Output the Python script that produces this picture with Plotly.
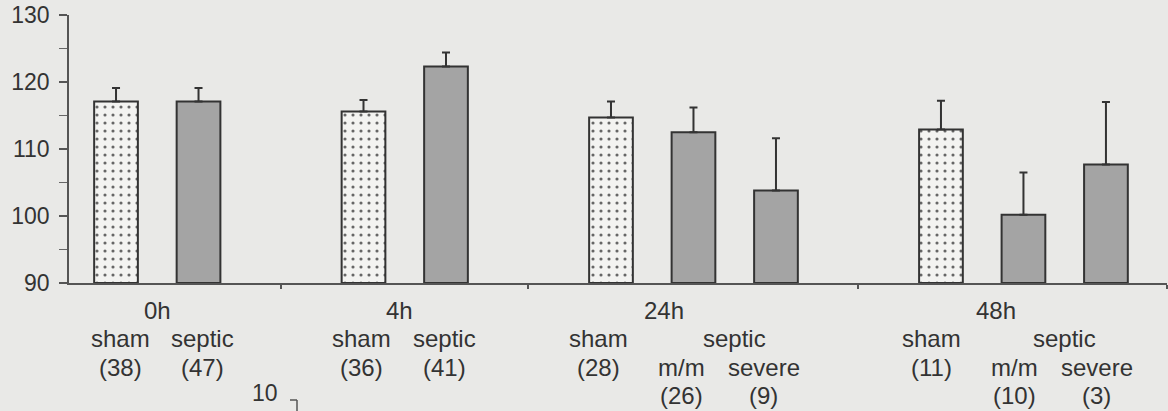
import plotly.graph_objects as go

# ---- data ----
time_points = ["0h", "4h", "24h", "48h"]
group_names = [["sham", "septic"], ["sham", "septic"],
               ["sham", "m/m", "severe"], ["sham", "m/m", "severe"]]
group_n = [["(38)", "(47)"], ["(36)", "(41)"],
           ["(28)", "(26)", "(9)"], ["(11)", "(10)", "(3)"]]
group_means = [[117.1, 117.1], [115.6, 122.3],
               [114.7, 112.5, 103.8], [112.9, 100.2, 107.7]]
group_sem = [[2.0, 2.0], [1.7, 2.1],
             [2.4, 3.7, 7.8], [4.3, 6.3, 9.3]]
y_ticks = [90, 100, 110, 120, 130]

# ---- geometry ----
W, H = 1168, 411
L, T = 69, 15
PW, PH = 1098, 268
R = W - L - PW
B = H - T - PH
FONT = "Liberation Sans, Arial, sans-serif"
TXT = "#333333"
FS = 24
FS_TICK = 23
BG = "#e9e9e7"

xs_sham, ys_sham, es_sham = [], [], []
xs_sep, ys_sep, es_sep = [], [], []
group_slots = []
gap_slots = []
slot = 0
for gi, means in enumerate(group_means):
    slots = []
    for bi, m in enumerate(means):
        slots.append(slot)
        if bi == 0:
            xs_sham.append(slot); ys_sham.append(m); es_sham.append(group_sem[gi][bi])
        else:
            xs_sep.append(slot); ys_sep.append(m); es_sep.append(group_sem[gi][bi])
        slot += 1
    group_slots.append(slots)
    if gi < len(group_means) - 1:
        gap_slots.append(slot)
        slot += 1

x_range = [-0.57, slot - 1 + 0.74]
bar_w = 0.53

fig = go.Figure()
fig.add_trace(go.Bar(
    x=xs_sham, y=[v - 90 for v in ys_sham], base=90, width=bar_w,
    marker=dict(color="#f3f3f1", line=dict(color="#333333", width=2),
                pattern=dict(shape=".", fgcolor="#666666", bgcolor="#f3f3f1",
                             size=8, solidity=0.12, fillmode="replace")),
    error_y=dict(type="data", array=es_sham, arrayminus=[0] * len(es_sham),
                 color="#333333", thickness=2, width=4),
    showlegend=False, hoverinfo="skip"))
fig.add_trace(go.Bar(
    x=xs_sep, y=[v - 90 for v in ys_sep], base=90, width=bar_w,
    marker=dict(color="#a4a4a4", line=dict(color="#333333", width=2)),
    error_y=dict(type="data", array=es_sep, arrayminus=[0] * len(es_sep),
                 color="#333333", thickness=2, width=4),
    showlegend=False, hoverinfo="skip"))

# ---- annotations ----
ann = []
def txt(x, text, dy, xshift=0):
    ann.append(dict(x=x, y=0, xref="x", yref="paper", text=text,
                    showarrow=False, xanchor="center", yanchor="middle",
                    yshift=-dy, xshift=xshift,
                    font=dict(family=FONT, size=FS, color=TXT)))

row_dy = [27, 55, 84, 112]
time_shift = [0, -5, 12, 14]
single_shift = [4, -2, -12, -9]
for gi, slots in enumerate(group_slots):
    names = group_names[gi]
    ns = group_n[gi]
    txt((slots[0] + slots[1]) / 2, time_points[gi], row_dy[0], time_shift[gi])
    sh = single_shift[gi]
    if len(slots) == 2:
        txt(slots[0], names[0], row_dy[1], sh)
        txt(slots[1], names[1], row_dy[1], sh)
        txt(slots[0], ns[0], row_dy[2], sh)
        txt(slots[1], ns[1], row_dy[2], sh)
    else:
        txt(slots[0], names[0], row_dy[1], sh)
        txt((slots[1] + slots[2]) / 2, "septic", row_dy[1])
        txt(slots[0], ns[0], row_dy[2], sh)
        txt(slots[1], names[1], row_dy[2], sh)
        txt(slots[2], names[2], row_dy[2], sh)
        txt(slots[1], ns[1], row_dy[3], sh)
        txt(slots[2], ns[2], row_dy[3], sh)

# fragment of the next figure's axis at the bottom (page pixel positions)
def px(xp): return (xp - L) / PW
def py(yp): return (T + PH - yp) / PH
ann.append(dict(x=px(265), y=py(393), xref="paper", yref="paper", text="10",
                showarrow=False, xanchor="center", yanchor="middle",
                font=dict(family=FONT, size=FS_TICK, color=TXT)))
shapes = [
    dict(type="line", xref="paper", yref="paper", x0=px(290), x1=px(297),
         y0=py(400), y1=py(400), line=dict(color="#555555", width=1.5)),
    dict(type="line", xref="paper", yref="paper", x0=px(297), x1=px(297),
         y0=py(400), y1=py(411), line=dict(color="#555555", width=1.5)),
]

fig.update_layout(
    width=W, height=H,
    margin=dict(l=L, r=R, t=T, b=B),
    paper_bgcolor=BG, plot_bgcolor=BG,
    barmode="overlay",
    annotations=ann, shapes=shapes,
    xaxis=dict(range=x_range, showgrid=False, zeroline=False,
               showline=True, linecolor="#555555", linewidth=1.5,
               tickmode="array", tickvals=gap_slots + [x_range[1]],
               ticktext=[""] * (len(gap_slots) + 1),
               ticks="outside", ticklen=4, tickwidth=1.5, tickcolor="#555555"),
    yaxis=dict(range=[90, 130], showgrid=False, zeroline=False,
               showline=True, linecolor="#555555", linewidth=1.5,
               tickmode="array", tickvals=y_ticks,
               ticks="outside", ticklen=8, tickwidth=1.5, tickcolor="#555555",
               ticklabelstandoff=5, ticklabeloverflow="allow",
               minor=dict(tickmode="linear", tick0=95, dtick=10, ticks="outside",
                          ticklen=8, tickwidth=1.2, tickcolor="#666666"),
               tickfont=dict(family=FONT, size=FS_TICK, color=TXT)),
)

fig.write_html("out.html", config={"displayModeBar": False},
               post_script="document.body.style.margin='0';document.body.style.background='%s';" % BG)
